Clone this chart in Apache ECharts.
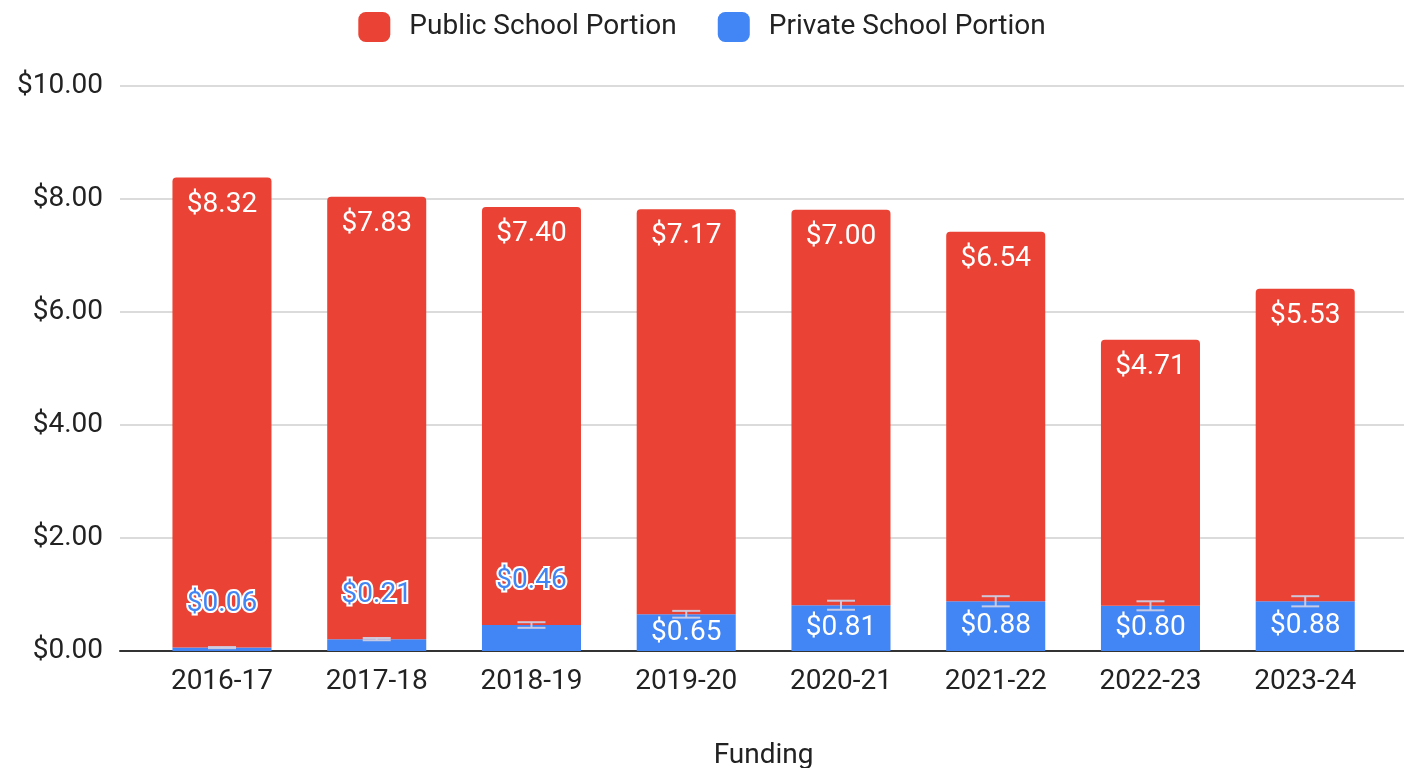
<!DOCTYPE html>
<html>
<head>
<meta charset="utf-8">
<script src="https://cdn.jsdelivr.net/npm/echarts@6/dist/echarts.min.js"></script>
<style>
  html, body { margin: 0; padding: 0; background: #ffffff; }
  #chart { width: 1404px; height: 768px; }
</style>
</head>
<body>
<div id="chart"></div>
<script>
// School years on the category axis
const categories = ['2016-17', '2017-18', '2018-19', '2019-20', '2020-21', '2021-22', '2022-23', '2023-24'];
// Private school portion (bottom of each stack)
const privatePortion = [0.06, 0.21, 0.46, 0.65, 0.81, 0.88, 0.80, 0.88];
// Public school portion (stacked on top)
const publicPortion = [8.32, 7.83, 7.40, 7.17, 7.00, 6.54, 4.71, 5.53];
// Error margin drawn around the top of each private segment
const privateError = [0.01, 0.02, 0.05, 0.06, 0.08, 0.09, 0.08, 0.09];
// Value axis ticks
const yTicks = [0, 2, 4, 6, 8, 10];

const RED = '#ea4335';
const BLUE = '#4285f4';
const FONT = 'Roboto, "Liberation Sans", Arial, sans-serif';
const FS = 28;

const money = v => '$' + Number(v).toFixed(2);

const TOP = 86, BOTTOM = 117;

const chart = echarts.init(document.getElementById('chart'), null, { renderer: 'canvas' });

// Short private segments carry their label above, with a white halo
const privateData = privatePortion.map(v => {
  const outside = v < 0.5;
  return {
    value: v,
    label: outside
      ? { position: 'top', distance: 30, color: BLUE, textBorderColor: '#ffffff', textBorderWidth: 4 }
      : { position: 'inside', color: '#ffffff' }
  };
});

chart.setOption({
  animation: false,
  textStyle: { fontFamily: FONT },
  legend: {
    top: 7,
    left: 'center',
    itemWidth: 32,
    itemHeight: 30,
    itemGap: 41,
    icon: 'roundRect',
    textStyle: { fontSize: FS, color: '#222', fontFamily: FONT, padding: [0, 0, 0, 14] },
    data: ['Public School Portion', 'Private School Portion']
  },
  grid: [
    // full-width frame carrying the gridlines and the baseline
    { left: 120, right: 0, top: TOP, bottom: BOTTOM, outerBoundsMode: 'none', containLabel: false },
    // plotting area for the bars
    { left: 144.6, right: 21.4, top: TOP, bottom: BOTTOM, outerBoundsMode: 'none', containLabel: false }
  ],
  xAxis: [
    {
      gridIndex: 0, type: 'value', min: 0, max: 1,
      axisLine: { show: true, onZero: false, lineStyle: { color: '#333', width: 2 } },
      axisTick: { show: false }, axisLabel: { show: false }, splitLine: { show: false }
    },
    {
      gridIndex: 1, type: 'category', data: categories,
      axisLine: { show: false }, axisTick: { show: false },
      axisLabel: { fontSize: FS, color: '#222', margin: 17, fontFamily: FONT },
      name: 'Funding', nameLocation: 'middle', nameGap: 91,
      nameTextStyle: { fontSize: FS, color: '#222', fontFamily: FONT }
    }
  ],
  yAxis: [
    {
      gridIndex: 0, type: 'value', min: yTicks[0], max: yTicks[yTicks.length - 1], interval: 2,
      axisLine: { show: false }, axisTick: { show: false },
      axisLabel: { fontSize: FS, color: '#222', margin: 17, formatter: money, fontFamily: FONT },
      splitLine: { lineStyle: { color: '#cfcfcf', width: 1.5 } }
    },
    {
      gridIndex: 1, type: 'value', min: yTicks[0], max: yTicks[yTicks.length - 1], interval: 2,
      show: false, splitLine: { show: false }
    }
  ],
  series: [
    {
      name: 'Private School Portion', type: 'bar', stack: 'total',
      xAxisIndex: 1, yAxisIndex: 1,
      barCategoryGap: '36%',
      itemStyle: { color: BLUE },
      label: { show: true, fontSize: FS, fontFamily: FONT, formatter: p => money(p.value) },
      data: privateData,
      z: 2
    },
    {
      name: 'Public School Portion', type: 'bar', stack: 'total',
      xAxisIndex: 1, yAxisIndex: 1,
      barCategoryGap: '36%',
      itemStyle: { color: RED, borderRadius: [4, 4, 0, 0] },
      label: {
        show: true, position: 'insideTop', distance: 13, color: '#ffffff',
        fontSize: FS, fontFamily: FONT, formatter: p => money(p.value)
      },
      data: publicPortion,
      z: 2
    },
    {
      name: 'error', type: 'custom',
      xAxisIndex: 1, yAxisIndex: 1,
      data: privatePortion.map((v, i) => [i, v - privateError[i], v + privateError[i]]),
      renderItem: (params, api) => {
        const lo = api.coord([api.value(0), api.value(1)]);
        const hi = api.coord([api.value(0), api.value(2)]);
        const half = 14;
        const style = { stroke: 'rgba(205,205,228,0.95)', lineWidth: 2 };
        return {
          type: 'group',
          children: [
            { type: 'line', shape: { x1: lo[0], y1: lo[1], x2: hi[0], y2: hi[1] }, style },
            { type: 'line', shape: { x1: lo[0] - half, y1: lo[1], x2: lo[0] + half, y2: lo[1] }, style },
            { type: 'line', shape: { x1: hi[0] - half, y1: hi[1], x2: hi[0] + half, y2: hi[1] }, style }
          ]
        };
      },
      z: 3,
      silent: true
    }
  ]
});
</script>
</body>
</html>
